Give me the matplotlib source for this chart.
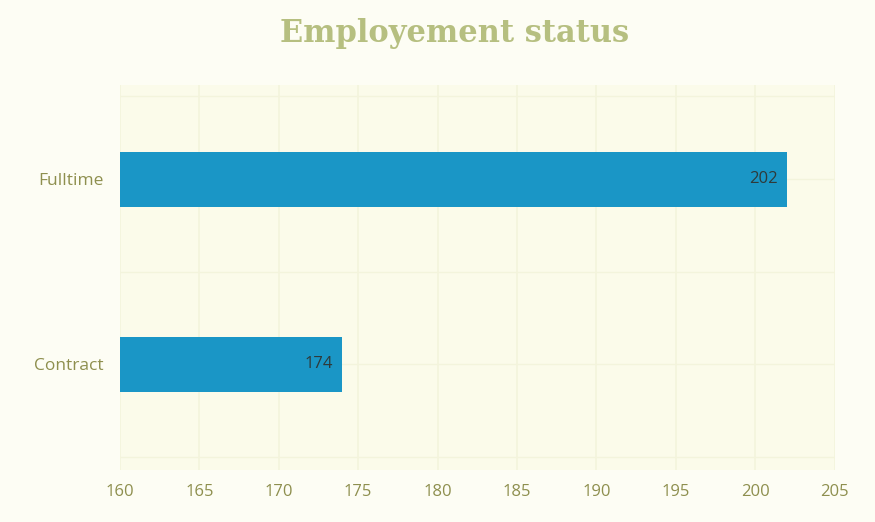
import matplotlib.pyplot as plt

# Employment status counts
categories = ['Contract', 'Fulltime']
counts = [174, 202]
x_ticks = [160, 165, 170, 175, 180, 185, 190, 195, 200, 205]

bar_color = '#1a96c6'
text_color = '#8e8f4e'
grid_color = '#f3f4dc'

fig = plt.figure(figsize=(8.75, 5.22), dpi=100)
fig.patch.set_facecolor('#fdfdf4')
ax = fig.add_axes([0.137, 0.10, 0.817, 0.737])
ax.set_facecolor('#fbfbea')

pos = list(range(len(categories)))
ax.barh(pos, counts, height=0.3, color=bar_color, zorder=3)

# value labels inside the end of each bar
for y, v in zip(pos, counts):
    ax.text(v - 0.6, y, str(v), ha='right', va='center', fontsize=12,
            color='#2f3a3a', family='Open Sans', zorder=4)

ax.set_xlim(160, 205)
ax.set_ylim(-0.57, 1.51)
ax.set_xticks(x_ticks)
ax.set_xticklabels([str(t) for t in x_ticks], fontsize=12, color=text_color,
                   family='Open Sans')
ax.set_yticks(pos)
ax.set_yticklabels(categories, fontsize=12.5, color=text_color, family='Open Sans')
ax.tick_params(length=0, pad=10)
ax.tick_params(axis='y', pad=12)

ax.grid(axis='x', color=grid_color, linewidth=1.2, zorder=0)
for yy in [-0.5, 0.0, 0.5, 1.0, 1.45]:
    ax.axhline(yy, color=grid_color, linewidth=1.0, zorder=0)
for s in ax.spines.values():
    s.set_visible(False)

fig.text(0.52, 0.935, 'Employement status', ha='center', va='center',
         fontsize=22, fontweight='bold', color='#b6bf80', family='DejaVu Serif')

fig.savefig('out.png', dpi=100, facecolor=fig.get_facecolor())
